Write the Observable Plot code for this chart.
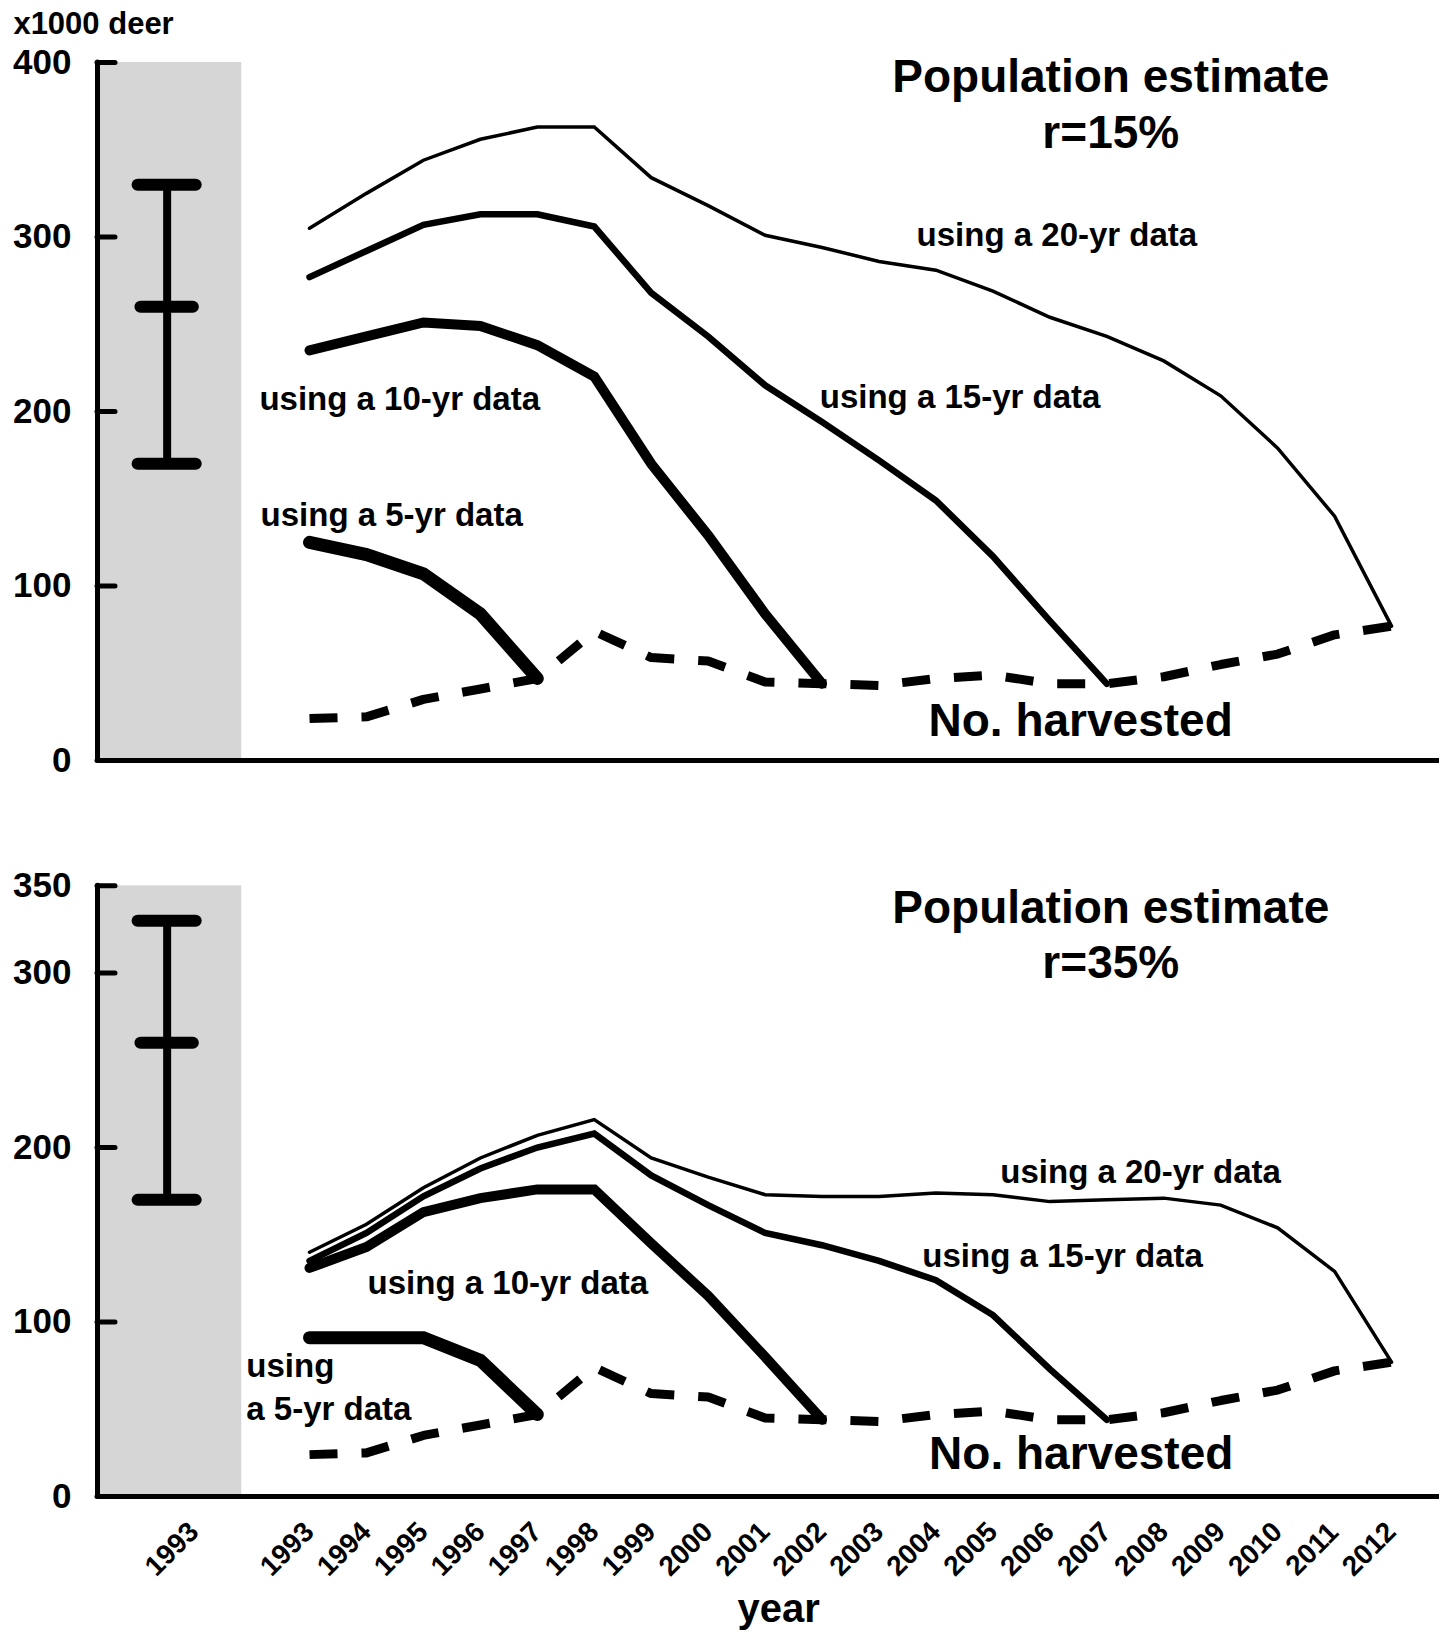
<!DOCTYPE html>
<html>
<head>
<meta charset="utf-8">
<script src="https://cdn.jsdelivr.net/npm/d3@7"></script>
<script src="https://cdn.jsdelivr.net/npm/@observablehq/plot@0.6"></script>
<style>
  body { margin: 0; background: #fff; }
  #chart { width: 1439px; height: 1631px; position: relative; }
  #chart svg { display: block; }
</style>
</head>
<body>
<div id="chart"></div>
<script>
// ---------- data (x1000 deer) ----------
const years = [1993,1994,1995,1996,1997,1998,1999,2000,2001,2002,2003,2004,2005,2006,2007,2008,2009,2010,2011,2012];
const harvested = [24,25,35,41,47,74,59,57,45,44,43,47,49,44,44,48,55,61,72,77];

// initial 1993 estimate: low, mid, high
const est15 = [170, 260, 330];
const est35 = [170, 260, 330];

// r = 15%
const r15_20yr = [305,325,344,356,363,363,334,318,301,294,286,281,269,254,243,229,209,179,140,77];
const r15_15yr = [277,292,307,313,313,306,268,243,215,194,172,149,117,80,44];
const r15_10yr = [235,243,251,249,238,220,170,129,84,44];
const r15_5yr  = [125,118,107,84,47];

// r = 35%
const r35_20yr = [140,156,177,194,207,216,194,183,173,172,172,174,173,169,170,171,167,154,129,77];
const r35_15yr = [135,151,172,188,200,208,184,167,151,144,135,124,104,73,44];
const r35_10yr = [131,143,163,171,176,176,145,115,80,44];
const r35_5yr  = [91,91,91,78,47];

const seriesNames = ["20-yr", "15-yr", "10-yr", "5-yr"];
const estLabel = "1993";

// ---------- layout / style ----------
const FONT = '"Liberation Sans", Arial, Helvetica, sans-serif';
const W = 1439;
const estPos = 1990.5;                 // x position of the initial-estimate column
const bandX = [1989.33, 1991.81];      // shaded column
const xDomain = [1989.277, 2012.842];
const strokeBySeries = {"20-yr": 3.5, "15-yr": 6.5, "10-yr": 10, "5-yr": 13};
const capHalf = [0.51, 0.46, 0.51];

function rowsOf(vals, series) {
  return vals.map((v, i) => ({year: years[i], value: v, series}));
}

function panel(p) {
  const harvestRows = rowsOf(harvested, "harvest");
  const marks = [
    Plot.rect([bandX], {x1: d => d[0], x2: d => d[1], y1: () => 0, y2: () => p.yMax, fill: "#d6d6d6"}),
    Plot.ruleX([p.est], {x: () => estPos, y1: d => d[0], y2: d => d[2], strokeWidth: 8}),
    Plot.ruleY(p.est, {y: d => d, x1: (d, i) => estPos - capHalf[i], x2: (d, i) => estPos + capHalf[i],
      strokeWidth: 12, strokeLinecap: "round"}),
    Plot.line(harvestRows, {x: "year", y: "value", stroke: "black", strokeWidth: 9,
      strokeDasharray: "28,24", strokeLinecap: "butt", strokeLinejoin: "miter"})
  ];
  p.series.forEach((vals, k) => {
    const name = seriesNames[k];
    marks.push(Plot.line(rowsOf(vals, name), {x: "year", y: "value", stroke: "black",
      strokeWidth: strokeBySeries[name], strokeLinecap: "round", strokeLinejoin: "miter", strokeMiterlimit: 4}));
  });
  marks.push(
    Plot.text(p.seriesLabels, {x: "x", y: "y", text: "text", textAnchor: "start", lineAnchor: "bottom",
      fontSize: 33, fontWeight: "bold", lineHeight: 1.33}),
    Plot.text([p.harvestLabel], {x: "x", y: "y", text: "text", textAnchor: "start", lineAnchor: "bottom",
      fontSize: 46, fontWeight: "bold"}),
    Plot.text([p.title], {x: "x", y: "y", text: "text", textAnchor: "middle", lineAnchor: "bottom",
      fontSize: 46, fontWeight: "bold", lineHeight: 1.2}),
    // axes
    Plot.tickY(p.yTicks, {y: d => d, insetRight: W - 97 - 18, strokeWidth: 5, strokeLinecap: "round"}),
    Plot.ruleX([0], {x: () => xDomain[0], y1: () => 0, y2: () => p.yMax, strokeWidth: 5, strokeLinecap: "round"}),
    Plot.ruleY([0], {y: () => 0, strokeWidth: 5}),
    Plot.axisY({ticks: p.yTicks, tickSize: 0, tickPadding: 26, fontSize: 35, fontWeight: "bold",
      tickFormat: d => String(d), label: null})
  );
  if (p.unit) {
    marks.push(Plot.text([p.unit], {x: "x", y: "y", text: "text", textAnchor: "start", lineAnchor: "bottom",
      fontSize: 31, fontWeight: "bold"}));
  }
  if (p.showX) {
    marks.push(
      Plot.text(years, {x: d => d, text: d => String(d), frameAnchor: "bottom", dy: 59, dx: -16,
        rotate: -45, fontSize: 28, fontWeight: "bold"}),
      Plot.text([estLabel], {x: () => estPos, text: d => d, frameAnchor: "bottom", dy: 59, dx: 11,
        rotate: -45, fontSize: 28, fontWeight: "bold"}),
      Plot.text([p.xTitle], {x: "x", y: "y", text: "text", textAnchor: "middle", lineAnchor: "bottom",
        fontSize: 40, fontWeight: "bold"})
    );
  }
  return Plot.plot({
    width: W,
    height: p.height,
    marginTop: p.marginTop,
    marginBottom: p.marginBottom,
    marginLeft: 97,
    marginRight: 0,
    x: {type: "linear", domain: xDomain, axis: null},
    y: {domain: [0, p.yMax], axis: null},
    style: {fontFamily: FONT, color: "black", background: "white", overflow: "visible"},
    marks
  });
}

const topPanel = panel({
  height: 800, marginTop: 62, marginBottom: 40, yMax: 400,
  yTicks: [0, 100, 200, 300, 400],
  est: est15,
  series: [r15_20yr, r15_15yr, r15_10yr, r15_5yr],
  seriesLabels: [
    {text: "using a 20-yr data", x: 2003.66, y: 294.6},
    {text: "using a 15-yr data", x: 2001.96, y: 201.8},
    {text: "using a 10-yr data", x: 1992.12, y: 200.6},
    {text: "using a 5-yr data",  x: 1992.14, y: 134.6}
  ],
  harvestLabel: {text: "No. harvested", x: 2003.87, y: 14.3},
  title: {text: "Population estimate\nr=15%", x: 2007.07, y: 351.2},
  unit: {text: "x1000 deer", x: 1987.80, y: 416.6},
  showX: false
});

const bottomPanel = panel({
  height: 831, marginTop: 85.3, marginBottom: 135, yMax: 350,
  yTicks: [0, 100, 200, 300, 350],
  est: est35,
  series: [r35_20yr, r35_15yr, r35_10yr, r35_5yr],
  seriesLabels: [
    {text: "using a 20-yr data", x: 2005.13, y: 179.9},
    {text: "using a 15-yr data", x: 2003.76, y: 131.8},
    {text: "using a 10-yr data", x: 1994.02, y: 116.3},
    {text: "using\na 5-yr data",  x: 1991.89, y: 43.6}
  ],
  harvestLabel: {text: "No. harvested", x: 2003.88, y: 15.5},
  title: {text: "Population estimate\nr=35%", x: 2007.07, y: 297.3},
  xTitle: {text: "year", x: 2001.24, y: -72},
  showX: true
});

const chart = document.getElementById("chart");
chart.appendChild(topPanel);
chart.appendChild(bottomPanel);
</script>
</body>
</html>
